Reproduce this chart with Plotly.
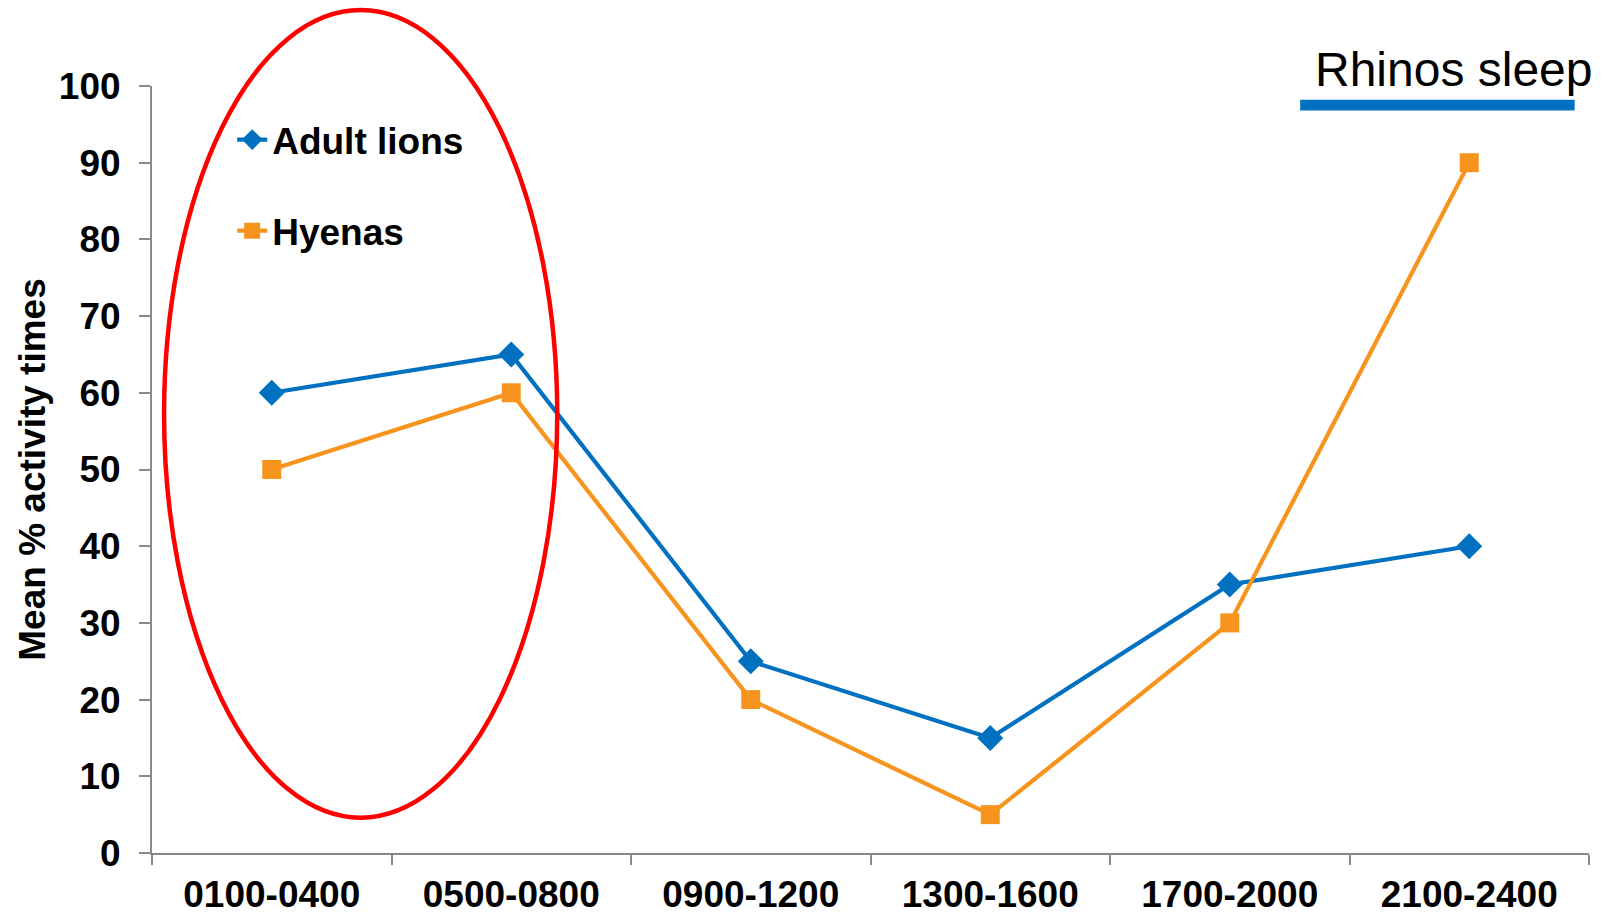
import plotly.graph_objects as go

# Time bands (24h clock) and mean % of time spent active
time_bands = ["0100-0400", "0500-0800", "0900-1200", "1300-1600", "1700-2000", "2100-2400"]
adult_lions = [60, 65, 25, 15, 35, 40]
hyenas = [50, 60, 20, 5, 30, 90]
y_ticks = [0, 10, 20, 30, 40, 50, 60, 70, 80, 90, 100]

BLUE = "#0070C0"
ORANGE = "#F7941D"
AXIS_GREY = "#898989"
FONT = "Liberation Sans, Arial, sans-serif"

fig = go.Figure()
fig.add_trace(go.Scatter(
    x=time_bands, y=adult_lions, name="Adult lions", mode="lines+markers",
    line=dict(color=BLUE, width=4.2),
    marker=dict(symbol="diamond", size=20, color=BLUE),
    legendgroup="lions",
))
fig.add_trace(go.Scatter(
    x=time_bands, y=hyenas, name="Hyenas", mode="lines+markers",
    line=dict(color=ORANGE, width=4.2),
    marker=dict(symbol="square", size=19, color=ORANGE),
    legendgroup="hyenas",
))

# Red ellipse highlighting the early-morning bands
fig.add_shape(
    type="circle", xref="x domain", yref="y domain",
    x0=0.0084, x1=0.282, y0=0.046, y1=1.099,
    line=dict(color="#FF0000", width=4.5), fillcolor="rgba(0,0,0,0)",
)
# Bar marking when rhinos sleep
fig.add_shape(
    type="rect", xref="x domain", yref="y",
    x0=0.799, x1=0.990, y0=96.8, y1=98.2,
    line=dict(width=0), fillcolor=BLUE,
)
fig.add_annotation(
    text="Rhinos sleep", xref="paper", yref="paper", x=0.906, y=1.021,
    showarrow=False, font=dict(family=FONT, size=48, color="#000000"),
    xanchor="center", yanchor="middle",
)

fig.update_layout(
    width=1609, height=915,
    margin=dict(l=152, r=20, t=86, b=62, autoexpand=False),
    paper_bgcolor="white", plot_bgcolor="white",
    font=dict(family=FONT, color="#000000"),
    showlegend=True,
    legend=dict(
        x=0.0558, y=0.97, xanchor="left", yanchor="top",
        font=dict(family=FONT, size=37, color="#000000", weight="bold"),
        bgcolor="rgba(0,0,0,0)", traceorder="grouped", tracegroupgap=40,
    ),
    xaxis=dict(
        type="category", range=[-0.5, 5.5], automargin=False,
        showline=True, linecolor=AXIS_GREY, linewidth=2,
        ticks="outside", tickson="boundaries", ticklen=10, tickwidth=2, tickcolor=AXIS_GREY,
        ticklabelstandoff=8,
        tickfont=dict(family=FONT, size=37, color="#000000", weight="bold"),
        showgrid=False, zeroline=False,
    ),
    yaxis=dict(
        range=[0, 100], tickvals=y_ticks, automargin=False,
        showline=True, linecolor=AXIS_GREY, linewidth=2,
        ticks="outside", ticklen=11, tickwidth=2, tickcolor=AXIS_GREY,
        ticklabelstandoff=11,
        tickfont=dict(family=FONT, size=37, color="#000000", weight="bold"),
        showgrid=False, zeroline=False,
        title=dict(text="Mean % activity times", standoff=2,
                   font=dict(family=FONT, size=37, color="#000000", weight="bold")),
    ),
)

fig.write_html("out.html")
